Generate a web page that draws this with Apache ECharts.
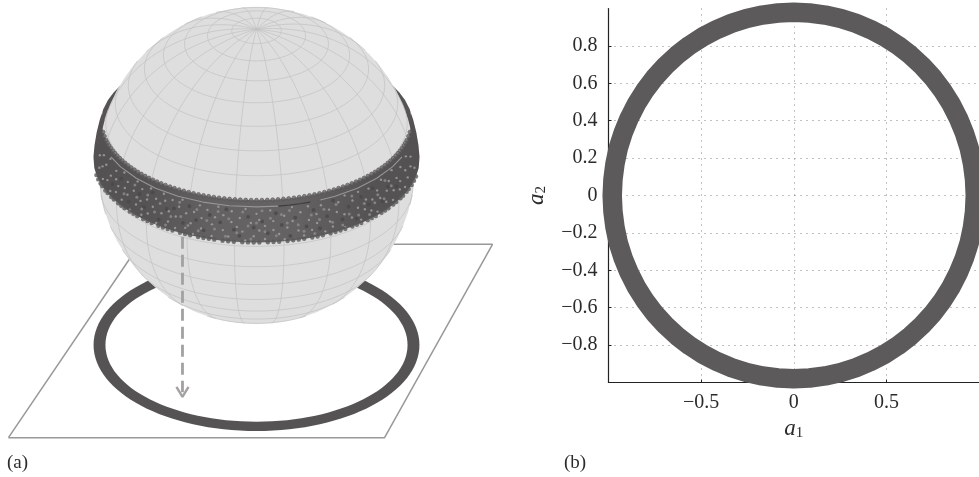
<!DOCTYPE html>
<html>
<head>
<meta charset="utf-8">
<style>html,body{margin:0;padding:0;background:#fff}#c{width:979px;height:477px}</style>
<script src="https://cdn.jsdelivr.net/npm/echarts@6/dist/echarts.min.js"></script>
</head>
<body>
<div id="c"></div>
<script>
// Panel (b): ring of projected points
const a1Values = [0.98,0.976,0.965,0.947,0.921,0.888,0.849,0.803,0.751,0.693,0.63,0.562,0.49,0.414,0.335,0.254,0.17,0.085,0,-0.085,-0.17,-0.254,-0.335,-0.414,-0.49,-0.562,-0.63,-0.693,-0.751,-0.803,-0.849,-0.888,-0.921,-0.947,-0.965,-0.976,-0.98,-0.976,-0.965,-0.947,-0.921,-0.888,-0.849,-0.803,-0.751,-0.693,-0.63,-0.562,-0.49,-0.414,-0.335,-0.254,-0.17,-0.085,0,0.085,0.17,0.254,0.335,0.414,0.49,0.562,0.63,0.693,0.751,0.803,0.849,0.888,0.921,0.947,0.965,0.976,0.98];
const a2Values = [0,0.085,0.17,0.254,0.335,0.414,0.49,0.562,0.63,0.693,0.751,0.803,0.849,0.888,0.921,0.947,0.965,0.976,0.98,0.976,0.965,0.947,0.921,0.888,0.849,0.803,0.751,0.693,0.63,0.562,0.49,0.414,0.335,0.254,0.17,0.085,0,-0.085,-0.17,-0.254,-0.335,-0.414,-0.49,-0.562,-0.63,-0.693,-0.751,-0.803,-0.849,-0.888,-0.921,-0.947,-0.965,-0.976,-0.98,-0.976,-0.965,-0.947,-0.921,-0.888,-0.849,-0.803,-0.751,-0.693,-0.63,-0.562,-0.49,-0.414,-0.335,-0.254,-0.17,-0.085,0];
const xTicks = [-0.5,0,0.5];
const yTicks = [-0.8,-0.6,-0.4,-0.2,0,0.2,0.4,0.6,0.8];

// Panel (a): sphere wireframe (degrees)
const latitudes = [-81,-72,-63,-54,-45,-36,-27,-18,-9,0,9,18,27,36,45,54,63,72,81];
const longitudes = [-170,-152,-134,-116,-98,-80,-62,-44,-26,-8,10,28,46,64,82,100,118,136,154,172];
const poleTilt = 30.7;

// Panel (a): band of points on the sphere (longitude in degrees, height a3)
const bandTop = 0.326, bandBackTop = 0.30, bandBottom = 0.046, bandRadius = 1.03;
const bandFrontTopLon = [-101,-96,-90,-84,-78,-72,-66,-60,-54,-48,-42,-36,-30,-24,-18,-12,-6,0,6,12,18,24,30,36,42,48,54,60,66,72,78,84,90,96,101];
const bandFrontBottomLon = [-91.5,-84,-78,-72,-66,-60,-54,-48,-42,-36,-30,-24,-18,-12,-6,0,6,12,18,24,30,36,42,48,54,60,66,72,78,84,91.5];
const bandSideHeight = [0.25,0.18,0.11];
const bandSideLon = [98.5,96,93.7];
const bandBackTopLon = [101,108,114,120,126,132,138,144,150,156,162,168,174,180,186,192,198,204,210,216,222,228,234,240,246,252,259];
const bandBackBottomLon = [91.5,102,114,126,138,150,162,174,186,198,210,222,234,246,258,268.5];
const topMarkLon = [-82,-79,-76,-74,-72,-70,-68,-66,-64,-62,-60,-58,-56,-54,-52,-50,-48,-46,-44,-42,-40,-38,-36,-34,-32,-30,-28,-26,-24,-22,-20,-18,-16,-14,-12,-10,-8,-6,-4,-2,0,2,4,6,8,10,12,14,16,18,20,22,24,26,28,30,32,34,36,38,40,42,44,46,48,50,52,54,56,58,60,62,64,66,68,70,72,74,76,79,82];
const bottomMarkLon = [-79,-76,-73,-71,-68,-66,-63,-61,-58,-56,-54,-51,-49,-47,-44,-42,-40,-37,-35,-33,-31,-28,-26,-24,-21,-19,-17,-15,-12,-10,-8,-5,-3,-1,1,4,6,8,11,13,15,17,20,22,24,27,29,31,33,36,38,40,43,45,47,50,52,54,57,59,62,64,67,69,72,75,78];
const chordLonLeft = [-68,-60,-50,-40,-30,-20,-10,0,8];
const chordLonDark = [8,12,16,20];
const chordLonRight = [24,30,40,50,60,68];
const chordHeight = 0.284;
const flecksLarge = [
[-63,.14],[-58,.22],[-52,.11],[-47,.2],[-44,.13],[-41,.25],[-37,.09],[-34,.18],[-31,.2],[-27,.12],[-25,.24],[-22,.16],[-19,.1],[-17,.21],[-13,.17],[-11,.26],
[-8,.13],[-6,.09],[-3,.22],[-1,.15],[2,.19],[4,.11],[7,.24],[9,.16],[12,.08],[14,.2],[18,.13],[21,.23],[23,.1],[26,.17],[29,.26],[32,.12],[35,.19],[38,.09],[41,.22],[44,.15],[47,.24],[51,.12],[55,.19],[60,.15]
];
const flecksMid = [
[-55,.14],[-50,.24],[-48,.17],[-45,.11],[-43,.22],[-39,.13],[-37,.2],[-34,.07],[-32,.14],[-29,.25],[-28,.16],[-25,.11],[-22,.23],[-21,.09],[-18,.17],[-15,.12],[-14,.24],[-11,.08],[-10,.2],[-7,.11],[-5,.25],[-3,.16],[-2,.07],[0,.18],[2,.26],[3,.12],[5,.21],[7,.09],[9,.23],[11,.17],[12,.25],[15,.15],[17,.1],[20,.2],[21,.07],[23,.16],[25,.22],[28,.12],[30,.23],[32,.08],[35,.14],[37,.25],[39,.11],[42,.17],[44,.08],[47,.14],[49,.18],[52,.13],[54,.24],[57,.18]
];
const flecksSmall = [
[-78,.2],[-76,.13],[-74,.24],[-73,.17],[-71,.1],[-70,.21],[-68,.27],[-67,.13],[-65,.18],[-64,.08],[-62,.24],[-61,.19],[-60,.11],[-59,.16],[-57,.27],[-56,.09],[-55,.18],[-54,.23],[-53,.15],
[-51,.06],[-50,.2],[-49,.27],[-48,.12],[-46,.16],[-46,.24],[-45,.07],[-43,.19],[-42,.1],[-42,.27],[-40,.16],[-39,.22],[-38,.06],[-36,.14],[-36,.27],[-35,.23],[-33,.1],[-33,.17],[-32,.25],[-30,.07],[-30,.15],
[-29,.22],[-28,.27],[-26,.09],[-26,.19],[-24,.13],[-23,.06],[-23,.21],[-21,.26],[-20,.11],[-20,.18],[-18,.24],[-16,.07],[-16,.15],[-15,.2],[-14,.27],[-12,.12],[-12,.22],[-10,.08],[-9,.18],[-9,.25],[-7,.15],[-6,.21],
[-5,.12],[-4,.06],[-4,.27],[-2,.18],[-1,.09],[0,.24],[1,.13],[1,.2],[3,.07],[3,.16],[5,.26],[6,.13],[6,.19],[8,.1],[10,.22],[10,.06],[11,.14],[13,.18],[13,.27],[15,.11],[16,.23],[17,.07],[19,.17],[19,.26],
[20,.1],[22,.14],[22,.2],[24,.25],[25,.07],[27,.13],[27,.21],[28,.09],[30,.18],[31,.24],[33,.06],[33,.15],[34,.27],[36,.11],[37,.22],[39,.16],[40,.07],[40,.26],[42,.13],[43,.19],[45,.1],[45,.25],
[46,.17],[48,.07],[49,.21],[50,.15],[52,.26],[53,.1],[54,.17],[56,.22],[57,.08],[58,.14],[59,.27],[61,.2],[62,.11],[63,.16],[65,.24],[66,.09],[68,.19],[69,.13],[71,.26],[73,.17],[75,.22],[77,.12]
];

// Panel (a): picture-plane outline, projection ring and arrow, in sphere radii
const planeX = [-1.565,0.808,1.489,-0.738,-1.565];
const planeY = [-1.717,-1.717,-0.497,-0.497,-1.717];
const groundRingOuter = [0,-1.1325,1.028,0.5426];
const groundRingInner = [0,-1.1325,0.953,0.484];
const arrowX = [-0.467,-0.467];
const arrowY = [-0.45,-1.43];
const arrowHeadX = [-0.505,-0.467,-0.429];
const arrowHeadY = [-1.397,-1.46,-1.397];

const serif = '"Liberation Serif", serif';
const ink = '#2b2b2b';
const tilt = poleTilt * Math.PI / 180;
const rad = Math.PI / 180;
function onSphere(latDeg, lonDeg) {
  const p = latDeg * rad, l = lonDeg * rad;
  return {
    xy: [Math.cos(p) * Math.sin(l), Math.sin(p) * Math.cos(tilt) - Math.cos(p) * Math.cos(l) * Math.sin(tilt)],
    depth: Math.cos(p) * Math.cos(l) * Math.cos(tilt) + Math.sin(p) * Math.sin(tilt)
  };
}
function onBand(lonDeg, h) {
  const r = Math.sqrt(bandRadius * bandRadius - h * h), l = lonDeg * rad;
  return [r * Math.sin(l), h * Math.cos(tilt) - r * Math.cos(l) * Math.sin(tilt)];
}
function visibleArc(api, makePoint, from, to, step) {
  const pts = [];
  for (let t = from; t <= to; t += step) {
    const q = makePoint(t);
    if (q.depth > 0) pts.push(api.coord(q.xy));
  }
  return pts;
}
const wire = {stroke: '#c2c2c2', lineWidth: 0.7, fill: 'none'};
const bandShade = new echarts.graphic.LinearGradient(0, 0, 1, 0, [
  {offset: 0, color: '#535152'}, {offset: 0.16, color: '#555354'},
  {offset: 0.38, color: '#646263'}, {offset: 0.62, color: '#646263'},
  {offset: 0.84, color: '#555354'}, {offset: 1, color: '#535152'}
]);
function bandSeries(topLons, bottomLons, topZ, fill, z, withSides) {
  return {
    type: 'custom', xAxisIndex: 0, yAxisIndex: 0, z, silent: true,
    data: [[topZ, bandBottom]],
    renderItem(params, api) {
      const up = api.value(0), low = api.value(1);
      let pts = topLons.map(l => api.coord(onBand(l, up)));
      if (withSides) pts = pts.concat(bandSideLon.map((l, i) => api.coord(onBand(l, bandSideHeight[i]))));
      pts = pts.concat(bottomLons.slice().reverse().map(l => api.coord(onBand(l, low))));
      if (withSides) pts = pts.concat(bandSideLon.slice().reverse().map((l, i, arr) => api.coord(onBand(-l, bandSideHeight[arr.length - 1 - i]))));
      return {type: 'polygon', shape: {points: pts}, style: {fill}};
    }
  };
}
function ellipseSeries(row, fill, z) {
  return {
    type: 'custom', xAxisIndex: 0, yAxisIndex: 0, z, silent: true, data: [row],
    renderItem(params, api) {
      const c = api.coord([api.value(0), api.value(1)]);
      const s = api.size([api.value(2), api.value(3)]);
      return {type: 'ellipse', shape: {cx: c[0], cy: c[1], rx: s[0], ry: s[1]}, style: {fill}};
    }
  };
}
function chordSeries(lons, color, z) {
  return {
    type: 'line', xAxisIndex: 0, yAxisIndex: 0, z, silent: true, showSymbol: false,
    data: lons.map(l => onBand(l, chordHeight)),
    lineStyle: {color, width: 1.1}
  };
}
function markSeries(points, size, style, z) {
  return {type: 'scatter', xAxisIndex: 0, yAxisIndex: 0, z, silent: true, symbolSize: size, clip: false, data: points, itemStyle: style};
}
const ticksText = v => Math.abs(v) < 1e-9 ? '0' : (v < 0 ? '\u2212' : '') + Math.abs(v).toFixed(1);
const axisNameRich = {
  i: {fontFamily: serif, fontStyle: 'italic', fontSize: 23, color: ink},
  s: {fontFamily: serif, fontSize: 15, color: ink, verticalAlign: 'bottom', padding: [9, 0, 0, 0]}
};
const dotted = {color: '#858585', type: [1, 5], width: 1};
const panelLetter = {fontFamily: serif, fontSize: 19, fontWeight: 'normal', color: ink};

const option = {
  animation: false,
  backgroundColor: '#fff',
  title: [
    {text: '(a)', left: 7, top: 454, padding: 0, textStyle: panelLetter},
    {text: '(b)', left: 564, top: 454, padding: 0, textStyle: panelLetter}
  ],
  grid: [
    {left: 0, top: 0, width: 500, height: 477},
    {left: 608.5, top: 8.5, width: 370.5, height: 374}
  ],
  xAxis: [
    {type: 'value', gridIndex: 0, show: false, min: -1.6183, max: 1.5363},
    {type: 'value', gridIndex: 1, min: -1, max: 1, interval: 0.5,
     axisLine: {onZero: false, lineStyle: {color: '#222', width: 1.2}},
     axisTick: {inside: true, length: 3, lineStyle: {color: '#222'}, customValues: xTicks},
     axisLabel: {customValues: xTicks, formatter: ticksText, margin: 10, fontFamily: serif, fontSize: 20, color: ink},
     splitLine: {show: true, lineStyle: dotted},
     name: '{i|a}{s|1}', nameLocation: 'middle', nameGap: 26,
     nameTextStyle: {rich: axisNameRich}}
  ],
  yAxis: [
    {type: 'value', gridIndex: 0, show: false, min: -1.9653, max: 1.0442},
    {type: 'value', gridIndex: 1, min: -1, max: 1, interval: 0.2,
     axisLine: {onZero: false, lineStyle: {color: '#222', width: 1.2}},
     axisTick: {inside: true, length: 3, lineStyle: {color: '#222'}, customValues: yTicks},
     axisLabel: {customValues: yTicks, formatter: ticksText, margin: 11, fontFamily: serif, fontSize: 20, color: ink},
     splitLine: {show: true, lineStyle: dotted},
     name: '{i|a}{s|2}', nameLocation: 'middle', nameGap: 60, nameRotate: 90,
     nameTextStyle: {rich: axisNameRich}}
  ],
  series: [
    {type: 'line', xAxisIndex: 1, yAxisIndex: 1, z: 2, silent: true, clip: false, showSymbol: false,
     data: a1Values.map((x, i) => [x, a2Values[i]]),
     lineStyle: {color: '#5c5a5b', width: 19.5, cap: 'round', join: 'round'}},
    {type: 'line', xAxisIndex: 0, yAxisIndex: 0, z: 1, silent: true, showSymbol: false,
     data: planeX.map((x, i) => [x, planeY[i]]), lineStyle: {color: '#9a9899', width: 1.5}},
    ellipseSeries(groundRingOuter, '#555354', 2),
    ellipseSeries(groundRingInner, '#ffffff', 3),
    bandSeries(bandBackTopLon, bandBackBottomLon, bandBackTop, '#555354', 4, false),
    {type: 'custom', xAxisIndex: 0, yAxisIndex: 0, z: 5, silent: true, data: [[0, 0, 1]],
     renderItem(params, api) {
       const c = api.coord([api.value(0), api.value(1)]);
       return {type: 'circle', shape: {cx: c[0], cy: c[1], r: api.size([api.value(2), 0])[0]}, style: {fill: '#dedede'}};
     }},
    {type: 'custom', xAxisIndex: 0, yAxisIndex: 0, z: 6, silent: true, data: latitudes.map(v => [v]),
     renderItem(params, api) {
       const lat = api.value(0);
       return {type: 'polyline', shape: {points: visibleArc(api, l => onSphere(lat, l), -180, 180, 4)}, style: wire};
     }},
    {type: 'custom', xAxisIndex: 0, yAxisIndex: 0, z: 6, silent: true, data: longitudes.map(v => [v]),
     renderItem(params, api) {
       const lon = api.value(0);
       return {type: 'polyline', shape: {points: visibleArc(api, p => onSphere(p, lon), -90, 90, 3)}, style: wire};
     }},
    bandSeries(bandFrontTopLon, bandFrontBottomLon, bandTop, bandShade, 7, true),
    markSeries(flecksLarge.map(s => onBand(s[0], s[1])), 3.8, {color: '#4a4849', opacity: 0.8}, 8),
    markSeries(flecksMid.map(s => onBand(s[0], s[1])), 3, {color: '#8c8a8b', opacity: 0.85}, 8),
    markSeries(flecksSmall.map(s => onBand(s[0], s[1])), 2.4, {color: '#a9a7a8', opacity: 0.75}, 8),
    markSeries(bottomMarkLon.map(l => onBand(l, bandBottom)), 4.4, {color: '#595758'}, 9),
    markSeries(topMarkLon.map(l => onBand(l, bandTop)), 3.8, {color: '#6e6c6d', borderColor: '#565455', borderWidth: 0.8}, 9),
    chordSeries(chordLonLeft, '#979596', 10),
    chordSeries(chordLonRight, '#979596', 10),
    chordSeries(chordLonDark, '#3f3d3e', 10),
    {type: 'line', xAxisIndex: 0, yAxisIndex: 0, z: 11, silent: true, showSymbol: false,
     data: arrowX.map((x, i) => [x, arrowY[i]]), lineStyle: {color: '#a3a1a2', width: 2.8, type: [12, 6]}},
    {type: 'line', xAxisIndex: 0, yAxisIndex: 0, z: 11, silent: true, showSymbol: false,
     data: arrowHeadX.map((x, i) => [x, arrowHeadY[i]]), lineStyle: {color: '#a3a1a2', width: 2.4}}
  ]
};
echarts.init(document.getElementById('c'), null, {renderer: 'canvas'}).setOption(option);
</script>
</body>
</html>
